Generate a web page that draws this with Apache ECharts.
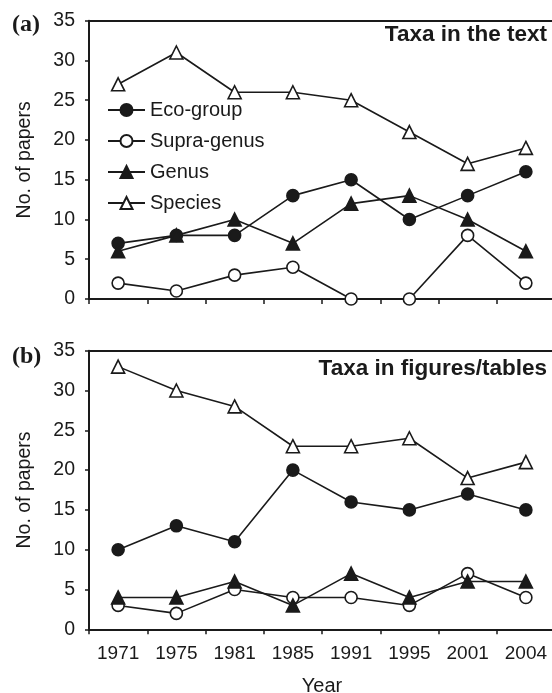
<!DOCTYPE html>
<html>
<head>
<meta charset="utf-8">
<script src="https://cdn.jsdelivr.net/npm/echarts@6/dist/echarts.min.js"></script>
<style>
  html, body { margin: 0; padding: 0; background: #fff; }
  #chart { width: 552px; height: 693px; }
</style>
</head>
<body>
<div id="chart"></div>
<script>
// years on the x axis
const years = ['1971', '1975', '1981', '1985', '1991', '1995', '2001', '2004']

// (a) taxa in the text
const textEco = [7, 8, 8, 13, 15, 10, 13, 16]
const textSupra = [2, 1, 3, 4, 0, 0, 8, 2]
const textGenus = [6, 8, 10, 7, 12, 13, 10, 6]
const textSpecies = [27, 31, 26, 26, 25, 21, 17, 19]

// (b) taxa in figures/tables
const figEco = [10, 13, 11, 20, 16, 15, 17, 15]
const figSupra = [3, 2, 5, 4, 4, 3, 7, 4]
const figGenus = [4, 4, 6, 3, 7, 4, 6, 6]
const figSpecies = [33, 30, 28, 23, 23, 24, 19, 21]

const FONT = '"Liberation Sans", Arial, Helvetica, sans-serif'
const SERIF = '"Liberation Serif", "Times New Roman", serif'
const INK = '#1a1a1a'

const chart = echarts.init(document.getElementById('chart'))

// the plot runs a little past the right edge, so don't let echarts shrink it
const grids = [
  {left: 89, width: 466, top: 20.7, height: 278.3, outerBoundsMode: 'none', containLabel: false},
  {left: 89, width: 466, top: 350.7, height: 278.6, outerBoundsMode: 'none', containLabel: false}
]

function bottomAxis(gi, showLabels) {
  return {
    type: 'category',
    gridIndex: gi,
    data: years,
    boundaryGap: true,
    axisLine: {lineStyle: {color: INK, width: 2}},
    axisTick: {show: true, length: 5, inside: false, lineStyle: {color: INK, width: 1.5}},
    axisLabel: {show: showLabels, color: INK, fontSize: 19, fontFamily: FONT, margin: 15},
    name: showLabels ? 'Year' : '',
    nameLocation: 'middle',
    nameGap: 47,
    nameTextStyle: {color: INK, fontSize: 20, fontFamily: FONT},
    splitLine: {show: false}
  }
}

function topAxis(gi) {
  return {
    type: 'category',
    gridIndex: gi,
    position: 'top',
    data: years,
    axisLine: {lineStyle: {color: INK, width: 2}},
    axisTick: {show: false},
    axisLabel: {show: false},
    splitLine: {show: false}
  }
}

function leftAxis(gi) {
  return {
    type: 'value',
    gridIndex: gi,
    min: 0,
    max: 35,
    interval: 5,
    axisLine: {show: true, lineStyle: {color: INK, width: 2}},
    axisTick: {show: true, length: 4, lineStyle: {color: INK, width: 1.5}},
    axisLabel: {color: INK, fontSize: 19.5, fontFamily: FONT, margin: 14},
    splitLine: {show: false},
    name: 'No. of papers',
    nameLocation: 'middle',
    nameGap: 54,
    nameTextStyle: {color: INK, fontSize: 19.5, fontFamily: FONT}
  }
}

// marker styles: filled / open circle, filled / open triangle
const styles = {
  'Eco-group': {symbol: 'circle', fill: INK},
  'Supra-genus': {symbol: 'circle', fill: '#fff'},
  'Genus': {symbol: 'triangle', fill: INK},
  'Species': {symbol: 'triangle', fill: '#fff'}
}

function makeSeries(name, data, gi) {
  const st = styles[name]
  return {
    name: name,
    type: 'line',
    xAxisIndex: gi * 2,
    yAxisIndex: gi,
    data: data,
    symbol: st.symbol,
    symbolSize: st.symbol === 'circle' ? 12 : 13,
    showAllSymbol: true,
    lineStyle: {color: INK, width: 1.6},
    itemStyle: {color: st.fill, borderColor: INK, borderWidth: 1.6},
    emphasis: {disabled: true},
    animation: false,
    z: 3
  }
}

const option = {
  animation: false,
  backgroundColor: '#fff',
  grid: grids,
  xAxis: [bottomAxis(0, false), topAxis(0), bottomAxis(1, true), topAxis(1)],
  yAxis: [leftAxis(0), leftAxis(1)],
  title: [
    {text: 'Taxa in the text', right: 5, top: 23, padding: 0,
      textStyle: {color: INK, fontSize: 22.5, fontWeight: 'bold', fontFamily: FONT}},
    {text: 'Taxa in figures/tables', right: 5, top: 357, padding: 0,
      textStyle: {color: INK, fontSize: 22.5, fontWeight: 'bold', fontFamily: FONT}},
    {text: '(a)', left: 12, top: 13, padding: 0,
      textStyle: {color: INK, fontSize: 24, fontWeight: 'bold', fontFamily: SERIF}},
    {text: '(b)', left: 12, top: 345, padding: 0,
      textStyle: {color: INK, fontSize: 24, fontWeight: 'bold', fontFamily: SERIF}}
  ],
  legend: {
    orient: 'vertical',
    left: 107,
    top: 100,
    padding: 0,
    itemWidth: 37,
    itemHeight: 15,
    itemGap: 11,
    selectedMode: false,
    data: ['Eco-group', 'Supra-genus', 'Genus', 'Species'],
    textStyle: {color: INK, fontSize: 20, fontFamily: FONT, lineHeight: 20, padding: [0, 0, 0, 0]}
  },
  series: [
    makeSeries('Eco-group', textEco, 0),
    makeSeries('Supra-genus', textSupra, 0),
    makeSeries('Genus', textGenus, 0),
    makeSeries('Species', textSpecies, 0),
    makeSeries('Eco-group', figEco, 1),
    makeSeries('Supra-genus', figSupra, 1),
    makeSeries('Genus', figGenus, 1),
    makeSeries('Species', figSpecies, 1)
  ]
}

chart.setOption(option)
</script>
</body>
</html>
